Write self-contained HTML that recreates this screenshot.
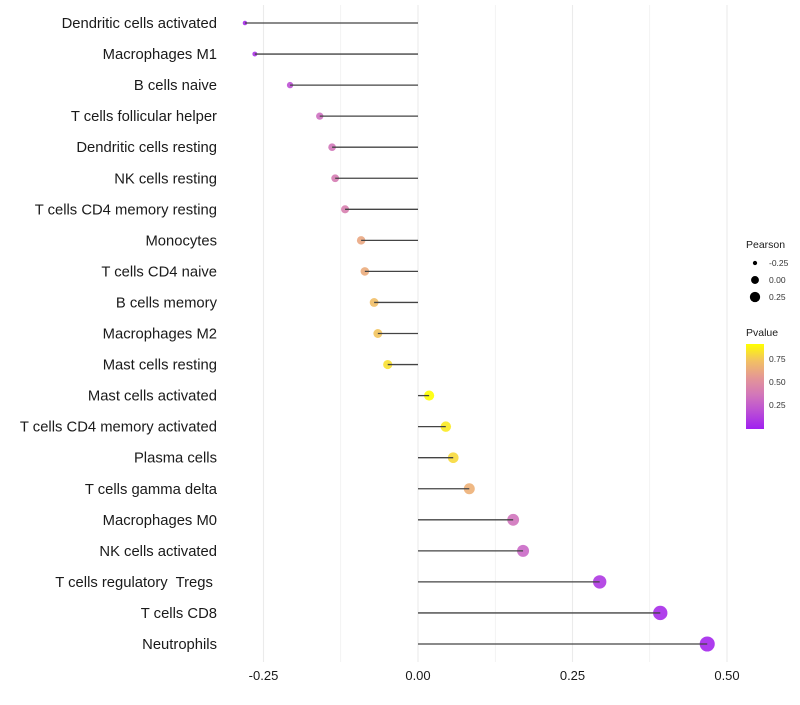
<!DOCTYPE html>
<html><head><meta charset="utf-8"><style>
body{margin:0;background:#fff;font-family:"Liberation Sans",sans-serif}
svg text{font-family:"Liberation Sans",sans-serif;white-space:pre}
</style></head><body>
<svg id="chart" width="800" height="700" xmlns="http://www.w3.org/2000/svg"></svg>
<script>
const categories=["Dendritic cells activated","Macrophages M1","B cells naive","T cells follicular helper","Dendritic cells resting","NK cells resting","T cells CD4 memory resting","Monocytes","T cells CD4 naive","B cells memory","Macrophages M2","Mast cells resting","Mast cells activated","T cells CD4 memory activated","Plasma cells","T cells gamma delta","Macrophages M0","NK cells activated","T cells regulatory  Tregs ","T cells CD8","Neutrophils"];
const pearson=[-0.280,-0.264,-0.207,-0.159,-0.139,-0.134,-0.118,-0.092,-0.086,-0.071,-0.065,-0.049,0.018,0.045,0.057,0.083,0.154,0.170,0.294,0.392,0.468];
const pvalue=[0.04,0.08,0.2,0.33,0.37,0.4,0.42,0.62,0.64,0.72,0.74,0.82,0.91,0.85,0.8,0.66,0.35,0.3,0.1,0.05,0.03];
const xTicks=[-0.25,0,0.25,0.5];
const xTickLabels=["-0.25","0.00","0.25","0.50"];
const NS="http://www.w3.org/2000/svg";
const svg=document.getElementById('chart');
const x=v=>418+v*618;
const y=i=>23+i*31.05;
const rad=v=>Math.sqrt(5+52*(v+0.28)/0.75);
function col(p){const t=Math.max(0,Math.min(1,p/0.91));
 const stops=[[0,[160,32,240]],[0.35,[205,110,195]],[0.6,[228,150,150]],[0.8,[242,192,100]],[1,[255,255,0]]];
 for(let k=1;k<stops.length;k++){if(t<=stops[k][0]){const a=stops[k-1],b=stops[k];const f=(t-a[0])/(b[0]-a[0]);return 'rgb('+a[1].map((c,j)=>Math.round(c+(b[1][j]-c)*f)).join(',')+')';}}
 return 'rgb(255,255,0)';}
function mk(tag,attrs,parent){const e=document.createElementNS(NS,tag);for(const k in attrs)e.setAttribute(k,attrs[k]);(parent||svg).appendChild(e);return e;}
[-0.25,-0.125,0,0.125,0.25,0.375,0.5].forEach(v=>{
 const g=mk('line',{x1:x(v),x2:x(v),y1:5,y2:662,stroke:'#ebebeb','stroke-width':v*8%2===0?1.1:0.6});
 
 
});
categories.forEach((c,i)=>{
 const lab=mk('text',{x:217,y:y(i)+5,'text-anchor':'end','font-size':14.8,fill:'#1a1a1a'});lab.textContent=c;
 
 
 const pt=mk('circle',{cx:x(pearson[i]),cy:y(i),r:rad(pearson[i]),fill:col(pvalue[i]),'fill-opacity':0.9});
 
 
 const sg=mk('line',{x1:x(0),x2:x(pearson[i]),y1:y(i),y2:y(i),stroke:'#444','stroke-width':1.3});
 
 
});
xTicks.forEach((v,i)=>{
 const t=mk('text',{x:x(v),y:680,'text-anchor':'middle','font-size':13,fill:'#1a1a1a'});t.textContent=xTickLabels[i];
 
 
});
const lt=mk('text',{x:746,y:248,'font-size':10.5,fill:'#1a1a1a'});lt.textContent='Pearson';


[[-0.25,263],[0,280],[0.25,297]].forEach(([v,yy])=>{
 const c=mk('circle',{cx:755,cy:yy,r:rad(v)*0.8,fill:'#000'});
 
 
 const t=mk('text',{x:769,y:yy+3,'font-size':8.5,fill:'#333'});t.textContent=(v<0?'-':'')+Math.abs(v).toFixed(2);
 
 
});
const pt2=mk('text',{x:746,y:336,'font-size':10.5,fill:'#1a1a1a'});pt2.textContent='Pvalue';


const defs=mk('defs',{});const lg=mk('linearGradient',{id:'pg',x1:0,y1:1,x2:0,y2:0},defs);
[0,0.2,0.4,0.6,0.8,1].forEach(f=>mk('stop',{offset:f,'stop-color':col(f*0.91)},lg));
const bar=mk('rect',{x:746,y:344,width:18,height:85,fill:'url(#pg)'});


[[0.75,359],[0.5,382],[0.25,405]].forEach(([v,yy])=>{
 const t=mk('text',{x:769,y:yy+3,'font-size':8.5,fill:'#333'});t.textContent=v.toFixed(2);
 
 
});
</script>
</body></html>
